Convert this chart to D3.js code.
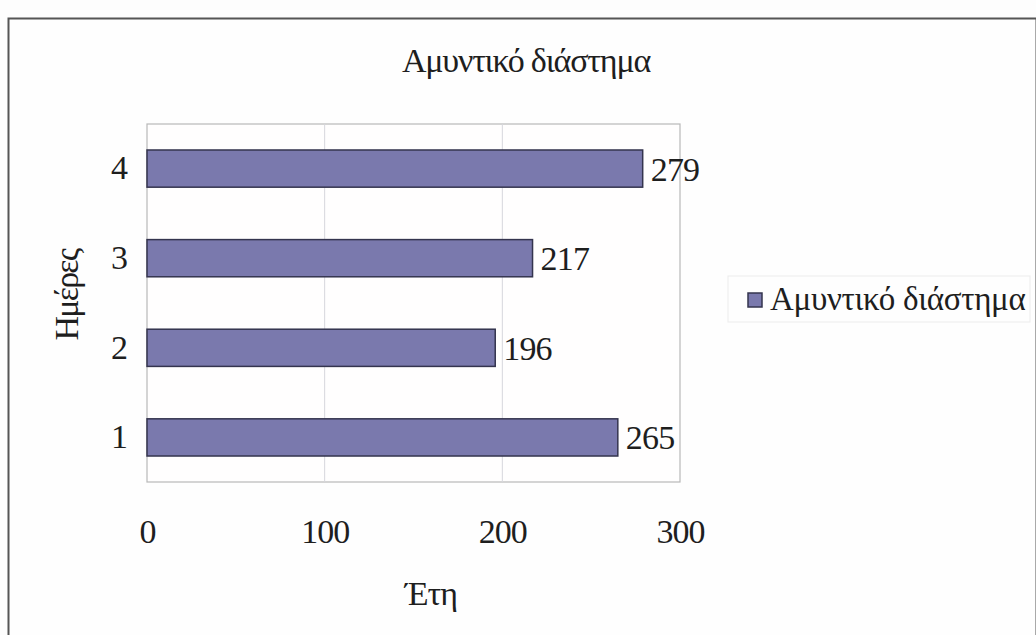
<!DOCTYPE html>
<html>
<head>
<meta charset="utf-8">
<script src="https://cdn.jsdelivr.net/npm/d3@7"></script>
<style>
  html, body { margin: 0; padding: 0; background: #fdfdfd; }
  svg { display: block; }
  text { font-family: "Liberation Serif", "DejaVu Serif", serif; fill: #1e1e1e; }
</style>
</head>
<body>
<svg id="chart" width="1036" height="635"></svg>
<script>
// Chart data
const categories = ["1", "2", "3", "4"];
const values = [265, 196, 217, 279];
const xTicks = [0, 100, 200, 300];
const seriesName = "Αμυντικό διάστημα";
const chartTitle = "Αμυντικό διάστημα";
const xTitle = "Έτη";
const yTitle = "Ημέρες";

const svg = d3.select("#chart");
const W = 1036, H = 635;
const FONT = 34;

// Outer chart frame
svg.append("rect")
  .attr("x", 8.5).attr("y", 18.5)
  .attr("width", W - 8).attr("height", H)
  .attr("fill", "#fefefe")
  .attr("stroke", "#555").attr("stroke-width", 2);

const plot = { left: 147, right: 680, top: 124, bottom: 482 };

const x = d3.scaleLinear().domain([0, 300]).range([plot.left, plot.right]);
const y = d3.scaleBand()
  .domain(categories.slice().reverse())
  .range([plot.top, plot.bottom])
  .paddingInner(0.585).paddingOuter(0.29);

// Plot area
svg.append("rect")
  .attr("x", plot.left).attr("y", plot.top)
  .attr("width", plot.right - plot.left).attr("height", plot.bottom - plot.top)
  .attr("fill", "#fffefe")
  .attr("stroke", "#b8b8b8").attr("stroke-width", 1.2);

// Vertical gridlines
svg.append("g")
  .selectAll("line")
  .data(xTicks.filter(t => t > 0 && t < 300))
  .join("line")
  .attr("x1", d => x(d)).attr("x2", d => x(d))
  .attr("y1", plot.top).attr("y2", plot.bottom)
  .attr("stroke", "#d6d6dc").attr("stroke-width", 1);

const rows = categories.map((c, i) => ({ c, v: values[i] }));

// Bars
svg.append("g")
  .selectAll("rect")
  .data(rows)
  .join("rect")
  .attr("x", x(0))
  .attr("y", d => y(d.c))
  .attr("width", d => x(d.v) - x(0))
  .attr("height", y.bandwidth())
  .attr("fill", "#7a79ad")
  .attr("stroke", "#34344e").attr("stroke-width", 1.5);

// Value labels
svg.append("g")
  .selectAll("text")
  .data(rows)
  .join("text")
  .attr("x", d => x(d.v) + 8)
  .attr("y", d => y(d.c) + y.bandwidth() / 2 + 12)
  .attr("font-size", FONT)
  .attr("letter-spacing", -0.8)
  .text(d => d.v);

// X axis
const xAxis = svg.append("g")
  .attr("transform", `translate(0,${plot.bottom})`)
  .call(d3.axisBottom(x).tickValues(xTicks).tickSize(0).tickPadding(37));
xAxis.select(".domain").remove();
xAxis.selectAll("text")
  .attr("font-size", FONT)
  .attr("letter-spacing", -1)
  .attr("font-family", "Liberation Serif, serif")
  .attr("fill", "#1e1e1e");

// Y axis
const yAxis = svg.append("g")
  .attr("transform", `translate(${plot.left},0)`)
  .call(d3.axisLeft(y).tickSize(0).tickPadding(19));
yAxis.select(".domain").remove();
yAxis.selectAll("text")
  .attr("font-size", FONT)
  .attr("font-family", "Liberation Serif, serif")
  .attr("fill", "#1e1e1e");

// Title
svg.append("text")
  .attr("x", 526).attr("y", 72)
  .attr("text-anchor", "middle")
  .attr("font-size", FONT)
  .attr("letter-spacing", -1.2)
  .text(chartTitle);

// Axis titles
svg.append("text")
  .attr("x", 431).attr("y", 605)
  .attr("text-anchor", "middle")
  .attr("font-size", FONT)
  .attr("letter-spacing", -1)
  .text(xTitle);

svg.append("text")
  .attr("transform", `translate(78,295) rotate(-90)`)
  .attr("text-anchor", "middle")
  .attr("font-size", FONT)
  .attr("letter-spacing", -1.8)
  .text(yTitle);

// Legend
const lg = svg.append("g").attr("transform", "translate(728,276)");
lg.append("rect")
  .attr("x", 0).attr("y", 0).attr("width", 302).attr("height", 46)
  .attr("fill", "#fefefe").attr("stroke", "#ececec");
lg.append("rect")
  .attr("x", 20).attr("y", 17).attr("width", 14).attr("height", 14)
  .attr("fill", "#7a79ad").attr("stroke", "#34344e").attr("stroke-width", 1.5);
lg.append("text")
  .attr("x", 42).attr("y", 34)
  .attr("font-size", 33)
  .attr("letter-spacing", -0.3)
  .text(seriesName);
</script>
</body>
</html>
